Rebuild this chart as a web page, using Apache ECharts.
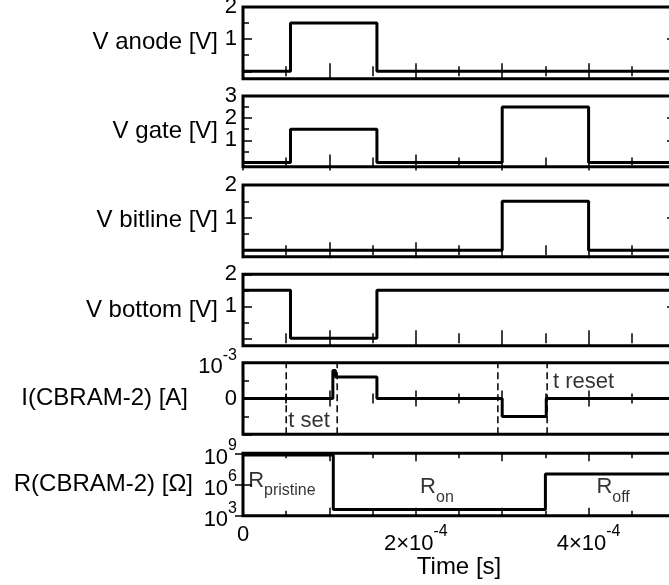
<!DOCTYPE html>
<html>
<head>
<meta charset="utf-8">
<title>CBRAM pulse sequence</title>
<script src="https://cdn.jsdelivr.net/npm/echarts@6/dist/echarts.min.js"></script>
</head>
<body style="margin:0;padding:0;background:#fff;">
<div id="main" style="width:669px;height:585px;"></div>
<script type="text/javascript">
// traces, time in seconds
var anodeTime   = [0, 0.55e-4, 0.55e-4, 1.55e-4, 1.55e-4, 5e-4];
var anodeVolt   = [0, 0, 1.5, 1.5, 0, 0];
var gateTime    = [0, 0.55e-4, 0.55e-4, 1.55e-4, 1.55e-4, 3.0e-4, 3.0e-4, 4.0e-4, 4.0e-4, 5e-4];
var gateVolt    = [0, 0, 1.5, 1.5, 0, 0, 2.5, 2.5, 0, 0];
var bitlineTime = [0, 3.0e-4, 3.0e-4, 4.0e-4, 4.0e-4, 5e-4];
var bitlineVolt = [0, 0, 1.5, 1.5, 0, 0];
var bottomTime  = [0, 0.55e-4, 0.55e-4, 1.55e-4, 1.55e-4, 5e-4];
var bottomVolt  = [1.5, 1.5, 0, 0, 1.5, 1.5];
var currentTime = [0, 1.04e-4, 1.04e-4, 1.07e-4, 1.07e-4, 1.55e-4, 1.55e-4, 3.0e-4, 3.0e-4, 3.51e-4, 3.51e-4, 5e-4];
var currentAmp  = [0, 0, 0.78e-3, 0.78e-3, 0.6e-3, 0.6e-3, 0, 0, -0.5e-3, -0.5e-3, 0, 0];
var resTime     = [0, 1.045e-4, 1.045e-4, 3.5e-4, 3.5e-4, 5e-4];
var resOhm      = [7e8, 7e8, 4e3, 4e3, 1e7, 1e7];

// t set / t reset markers and the text notes
var markerTime  = [0.5e-4, 1.09e-4, 2.95e-4, 3.52e-4];
var markerSpan  = [-1e-3, 1e-3];
var noteText    = ['t set', 't reset'];
var noteTime    = [0.524e-4, 3.587e-4];
var noteAmp     = [-0.62e-3, 0.46e-3];
var stateText   = ['pristine', 'on', 'off'];
var stateTime   = [0.06e-4, 2.05e-4, 4.09e-4];
var stateOhm    = [1e6, 2.5e5, 2.5e5];

var timeLabels  = [0, 2e-4, 4e-4];

var FONT = 'Liberation Sans';
var supRich = {
    b: {fontSize: 22, fontFamily: FONT, color: '#000', verticalAlign: 'bottom'},
    s: {fontSize: 16, fontFamily: FONT, color: '#000', verticalAlign: 'bottom', padding: [0, 0, 15, 0]}
};

var panels = [
    {name: 'V anode [V]',   top: 7,     height: 71.7, min: -0.23, max: 2, t: anodeTime,   v: anodeVolt,
     labels: [1, 2], major: [0, 1, 2], minor: [0.5, 1.5], gap: 25, lift: 6},
    {name: 'V gate [V]',    top: 96,    height: 70.7, min: -0.19, max: 3, t: gateTime,    v: gateVolt,
     labels: [1, 2, 3], major: [0, 1, 2, 3], minor: [0.5, 1.5, 2.5], gap: 25, lift: 0},
    {name: 'V bitline [V]', top: 185,   height: 71.7, min: -0.2,  max: 2, t: bitlineTime, v: bitlineVolt,
     labels: [1, 2], major: [0, 1, 2], minor: [0.5, 1.5], gap: 25, lift: 6},
    {name: 'V bottom [V]',  top: 274.3, height: 71.4, min: -0.23, max: 2, t: bottomTime,  v: bottomVolt,
     labels: [1, 2], major: [0, 1, 2], minor: [0.5, 1.5], gap: 25, lift: 6},
    {name: 'I(CBRAM-2) [A]', top: 362.7, height: 71.6, min: -1e-3, max: 1e-3, t: currentTime, v: currentAmp,
     labels: [0, 1e-3], major: [-1e-3, 0, 1e-3], minor: [-0.5e-3, 0.5e-3], gap: 55, lift: 0,
     fmt: function (v) { return v === 0 ? '0' : '{b|10}{s|-3}'; }},
    {name: 'R(CBRAM-2) [Ω]', top: 453.3, height: 62.4, min: 1e3, max: 1e9, t: resTime, v: resOhm, log: true,
     labels: [1e3, 1e6, 1e9], major: [1e3, 1e6, 1e9], minor: null, gap: 50, lift: 4,
     fmt: function (v) { return '{b|10}{s|' + Math.round(Math.log10(v)) + '}'; }}
];

var grids = [], xAxes = [], yAxes = [], series = [];
var tickStyle = {color: '#000', width: 1.5};

panels.forEach(function (p, i) {
    var last = i === panels.length - 1;
    grids.push({left: 243, width: 432, top: p.top, height: p.height, show: true,
        borderColor: '#000', borderWidth: 3, backgroundColor: 'transparent',
        containLabel: false, outerBoundsMode: 'none'});

    ['bottom', 'top'].forEach(function (pos) {
        var ax = {type: 'value', gridIndex: i, position: pos, min: 0, max: 5e-4, interval: 1e-4,
            axisLine: {show: false}, splitLine: {show: false},
            axisTick: {show: true, inside: true, length: 8, lineStyle: tickStyle},
            minorTick: {show: true, splitNumber: 2, length: 5, lineStyle: tickStyle},
            minorSplitLine: {show: false},
            axisLabel: {show: false}};
        if (last && pos === 'bottom') {
            ax.axisLabel = {show: true, customValues: timeLabels, margin: 8, color: '#000',
                fontSize: 22, fontFamily: FONT, rich: supRich,
                formatter: function (v) {
                    var k = Math.round(v / 1e-4);
                    return k === 0 ? '0' : '{b|' + k + '×10}{s|-4}';
                }};
            ax.name = 'Time [s]';
            ax.nameLocation = 'middle';
            ax.nameGap = 40;
            ax.nameMoveOverlap = false;
            ax.nameTextStyle = {fontSize: 24, fontFamily: FONT, color: '#000'};
        }
        xAxes.push(ax);
    });

    var yType = p.log ? 'log' : 'value';
    var yIdx = yAxes.length;
    yAxes.push({type: yType, gridIndex: i, position: 'left', min: p.min, max: p.max, logBase: 10,
        axisLine: {show: false}, splitLine: {show: false},
        axisTick: {show: true, inside: true, length: 9, customValues: p.major, lineStyle: tickStyle},
        axisLabel: {show: true, customValues: p.labels, margin: 6, color: '#000', fontSize: 22,
            fontFamily: FONT, rich: supRich, formatter: p.fmt || function (v) { return String(v); }},
        name: p.name, nameLocation: 'middle', nameRotate: 0, nameGap: p.gap, nameMoveOverlap: false,
        nameTextStyle: {fontSize: 24, fontFamily: FONT, color: '#000', padding: [0, 0, p.lift, 0]}});
    if (p.minor) {
        yAxes.push({type: yType, gridIndex: i, position: 'left', min: p.min, max: p.max,
            axisLine: {show: false}, splitLine: {show: false}, axisLabel: {show: false},
            axisTick: {show: true, inside: true, length: 6, customValues: p.minor, lineStyle: tickStyle}});
    }
    yAxes.push({type: yType, gridIndex: i, position: 'right', min: p.min, max: p.max, logBase: 10,
        axisLine: {show: false}, splitLine: {show: false}, axisLabel: {show: false},
        axisTick: {show: true, inside: true, length: 8, customValues: p.labels, lineStyle: tickStyle}});

    // dashed t set / t reset markers, drawn under the trace
    if (i === 4) {
        markerTime.forEach(function (t) {
            series.push({type: 'line', xAxisIndex: 2 * i, yAxisIndex: yIdx, showSymbol: false,
                animation: false, silent: true,
                lineStyle: {color: '#000', width: 1.5, type: [7, 4]},
                data: markerSpan.map(function (a) { return [t, a]; })});
        });
    }

    series.push({type: 'line', xAxisIndex: 2 * i, yAxisIndex: yIdx, showSymbol: false, animation: false,
        lineStyle: {color: '#000', width: 3}, itemStyle: {color: '#000'},
        data: p.t.map(function (t, k) { return [t, p.v[k]]; })});

    if (i === 4) {
        series.push({type: 'scatter', xAxisIndex: 2 * i, yAxisIndex: yIdx, symbolSize: 0, animation: false,
            label: {show: true, position: 'right', distance: 0, color: '#000', fontSize: 22, fontFamily: FONT,
                formatter: function (d) { return noteText[d.dataIndex]; }},
            data: noteTime.map(function (t, k) { return [t, noteAmp[k]]; })});
    }
    if (last) {
        series.push({type: 'scatter', xAxisIndex: 2 * i, yAxisIndex: yIdx, symbolSize: 0, animation: false,
            label: {show: true, position: 'right', distance: 0,
                rich: {
                    b: {fontSize: 22, fontFamily: FONT, color: '#000', verticalAlign: 'top'},
                    u: {fontSize: 16, fontFamily: FONT, color: '#000', verticalAlign: 'top', padding: [13, 0, 0, 0]}
                },
                formatter: function (d) { return '{b|R}{u|' + stateText[d.dataIndex] + '}'; }},
            data: stateTime.map(function (t, k) { return [t, stateOhm[k]]; })});
    }
});

var myChart = echarts.init(document.getElementById('main'));
myChart.setOption({
    animation: false,
    backgroundColor: '#fff',
    textStyle: {fontFamily: FONT, color: '#000'},
    grid: grids,
    xAxis: xAxes,
    yAxis: yAxes,
    series: series
});
</script>
</body>
</html>
